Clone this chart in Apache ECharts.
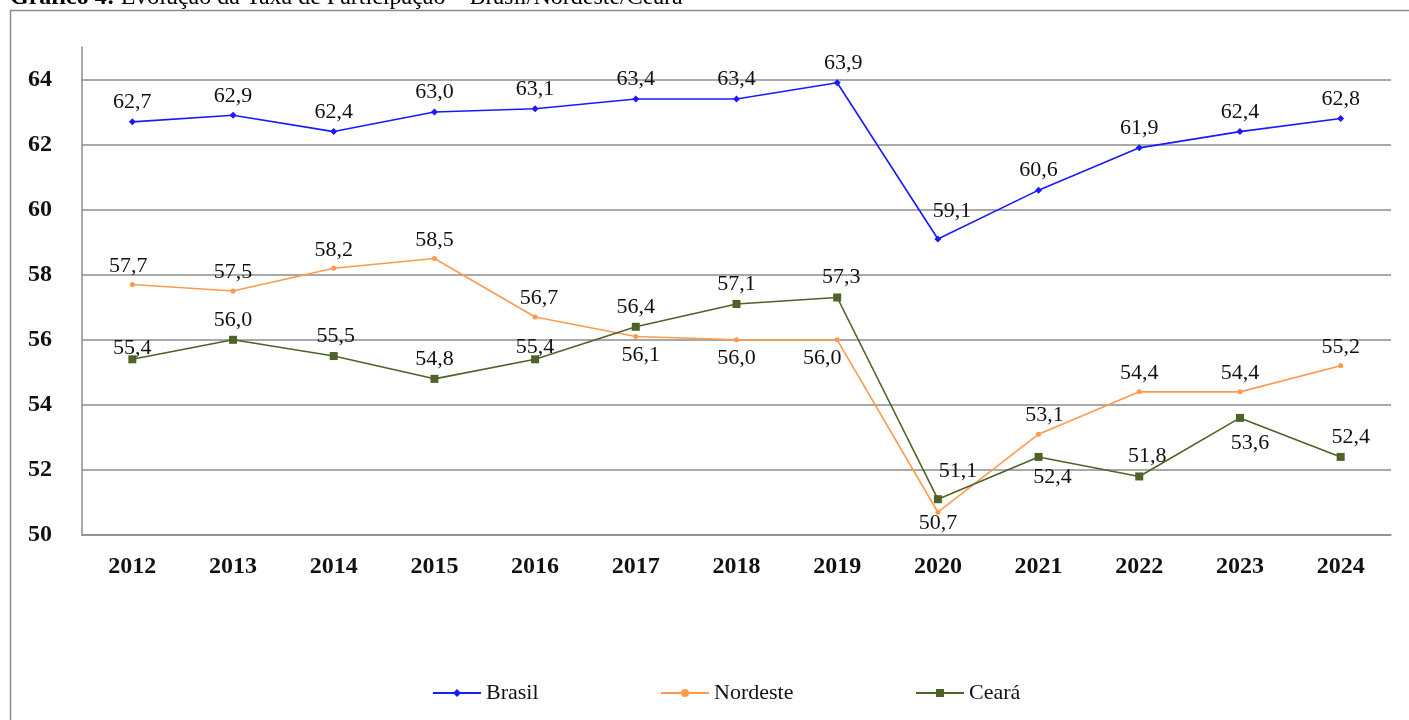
<!DOCTYPE html>
<html>
<head>
    <meta charset="utf-8">
    <script src="https://cdn.jsdelivr.net/npm/echarts@6/dist/echarts.min.js"></script>
</head>
<body style="margin:0;background:#fff;">
    <div id="main" style="width:1409px; height:720px;"></div>
</body>
<script type="text/javascript">
    // data
    const years = ['2012','2013','2014','2015','2016','2017','2018','2019','2020','2021','2022','2023','2024'];
    const brasil   = [62.7, 62.9, 62.4, 63.0, 63.1, 63.4, 63.4, 63.9, 59.1, 60.6, 61.9, 62.4, 62.8];
    const nordeste = [57.7, 57.5, 58.2, 58.5, 56.7, 56.1, 56.0, 56.0, 50.7, 53.1, 54.4, 54.4, 55.2];
    const ceara    = [55.4, 56.0, 55.5, 54.8, 55.4, 56.4, 57.1, 57.3, 51.1, 52.4, 51.8, 53.6, 52.4];

    // where each value label sits (kept apart from the values)
    const brasilPos   = ['top','top','top','top','top','top','top','top','top','top','top','top','top'];
    const brasilOff   = [[0,0],[0,0],[0,0],[0,0],[0,0],[0,0],[0,0],[6,0],[14,-8],[0,0],[0,0],[0,0],[0,0]];
    const nordestePos = ['top','top','top','top','top','bottom','bottom','bottom','bottom','top','top','top','top'];
    const nordesteOff = [[-4,0],[0,0],[0,0],[0,0],[4,0],[5,0],[0,0],[-15,0],[0,-8],[6,0],[0,0],[0,0],[0,0]];
    const cearaPos    = ['top','top','top','top','top','top','top','top','top','bottom','top','bottom','top'];
    const cearaOff    = [[0,9],[0,0],[2,0],[0,0],[0,8],[0,0],[0,0],[4,0],[20,-8],[14,0],[8,0],[10,5],[10,0]];

    const serif = '"Liberation Serif", "Times New Roman", serif';
    const fmt = v => v.toFixed(1).replace('.', ',');

    function build(values, pos, off) {
        return values.map((v, i) => ({
            value: v,
            label: { position: pos[i], offset: off[i] }
        }));
    }

    const labelStyle = {
        show: true,
        fontFamily: serif,
        fontSize: 22,
        color: '#111',
        distance: 5,
        formatter: p => fmt(p.value)
    };

    const legendBase = {
        top: 677,
        itemWidth: 48,
        itemHeight: 10,
        textStyle: { fontFamily: serif, fontSize: 22, color: '#111' }
    };

    const myChart = echarts.init(document.getElementById('main'));

    const option = {
        animation: false,
        backgroundColor: '#fff',
        graphic: [
            {
                type: 'rect',
                shape: { x: 10.5, y: 10.5, width: 1450, height: 800 },
                style: { fill: 'none', stroke: '#8c8c8c', lineWidth: 1.5 }
            },
            {
                type: 'text',
                left: 10,
                top: -14,
                style: {
                    text: '{b|Gráfico 4:} Evolução da Taxa de Participação – Brasil/Nordeste/Ceará',
                    font: '24px ' + serif,
                    fill: '#000',
                    rich: { b: { fontWeight: 'bold', fontSize: 24, fontFamily: serif } }
                }
            }
        ],
        grid: { left: 82, right: 18, top: 47, bottom: 185 },
        legend: [
            Object.assign({ left: 427, data: ['Brasil'] }, legendBase),
            Object.assign({ left: 655, data: ['Nordeste'] }, legendBase),
            Object.assign({ left: 910, data: ['Ceará'] }, legendBase)
        ],
        xAxis: {
            type: 'category',
            data: years,
            boundaryGap: true,
            axisTick: { show: false },
            axisLine: { lineStyle: { color: '#8c8c8c', width: 1.5 } },
            axisLabel: { fontFamily: serif, fontSize: 24, fontWeight: 'bold', color: '#111', margin: 20 }
        },
        yAxis: {
            type: 'value',
            min: 50,
            max: 65,
            interval: 2,
            axisLine: { show: true, lineStyle: { color: '#8c8c8c', width: 1.5 } },
            axisTick: { show: false },
            axisLabel: { fontFamily: serif, fontSize: 24, fontWeight: 'bold', color: '#111', margin: 30, showMaxLabel: false },
            splitLine: { showMaxLine: false, lineStyle: { color: '#8c8c8c', width: 1.5 } }
        },
        series: [
            {
                name: 'Brasil',
                type: 'line',
                data: build(brasil, brasilPos, brasilOff),
                color: '#1a1aff',
                symbol: 'diamond',
                symbolSize: 7,
                lineStyle: { width: 1.6 },
                label: labelStyle
            },
            {
                name: 'Nordeste',
                type: 'line',
                data: build(nordeste, nordestePos, nordesteOff),
                color: '#ff9a4d',
                symbol: 'circle',
                symbolSize: 5,
                lineStyle: { width: 1.6 },
                label: labelStyle
            },
            {
                name: 'Ceará',
                type: 'line',
                data: build(ceara, cearaPos, cearaOff),
                color: '#4f6228',
                symbol: 'rect',
                symbolSize: 8,
                lineStyle: { width: 1.6 },
                label: labelStyle
            }
        ]
    };
    option && myChart.setOption(option);
</script>
</html>
